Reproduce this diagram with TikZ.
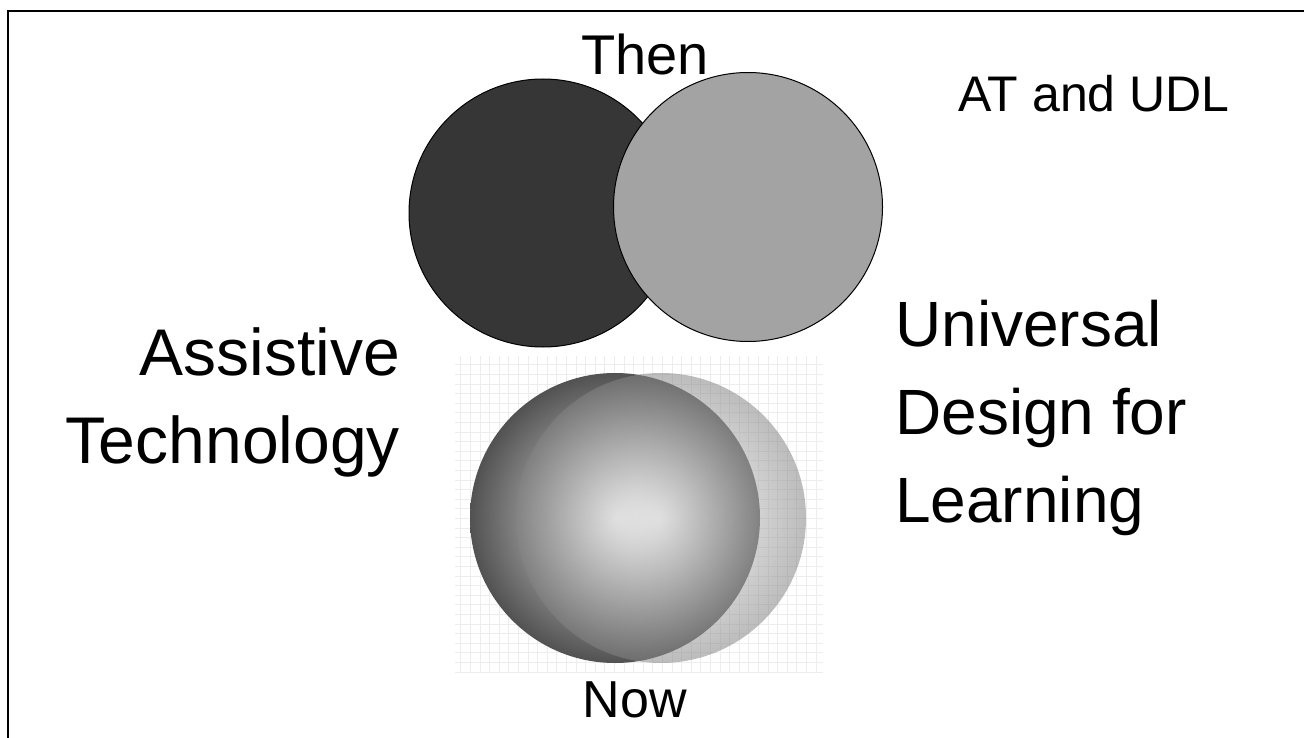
\documentclass[tikz,border=0pt]{standalone}
\usepackage{fontspec}
\setmainfont{Liberation Sans}
\usetikzlibrary{positioning}

\begin{document}
\begin{tikzpicture}[
  x=1pt, y=-1pt,
  every node/.style={inner sep=0pt, text=black},
  big label/.style={font=\fontsize{64}{88}\selectfont},
  small label/.style={font=\fontsize{52}{60}\selectfont},
  then circle/.style={draw=black, line width=1pt},
  now grid/.style={draw=black!7, line width=0.7pt},
]
%-------------------------------------------------------------
\newcommand{\colorisAT}{black!79}
\newcommand{\colorisUDL}{black!36}

\useasboundingbox (0,0) rectangle (1304,738);
\draw[line width=2.5pt] (8,738) |- (1304,11); % frame

%============================================================
% then
\fill[\colorisAT, then circle] (543,213) circle (134);
\fill[\colorisUDL, then circle] (748,207) circle (134.5);
\node[small label, anchor=base, font=\fontsize{56}{60}\selectfont] (then) at (645,75) {Then};
\node[small label, anchor=base west, font=\fontsize{50}{60}\selectfont] (title) at (958,112) {AT and UDL};

%============================================================
% now
\draw[now grid, xstep=9.6pt, ystep=9.6pt] (455,356) grid (823,673);
\shade[inner color=black!9, outer color=black!68] (615,518) circle (145);
\shade[inner color=white, outer color=black!48, fill opacity=0.55] (661,518) circle (145);
\node[small label, anchor=base] (now) at (635,717) {Now};

%============================================================
\node[big label, font=\fontsize{66}{88}\selectfont, align=right, anchor=base east] (at) at (400,463) {Assistive\\Technology};
\node[big label, align=left, anchor=base west] (udl) at (895,522) {Universal\\Design for\\Learning};

\end{tikzpicture}
\end{document}
